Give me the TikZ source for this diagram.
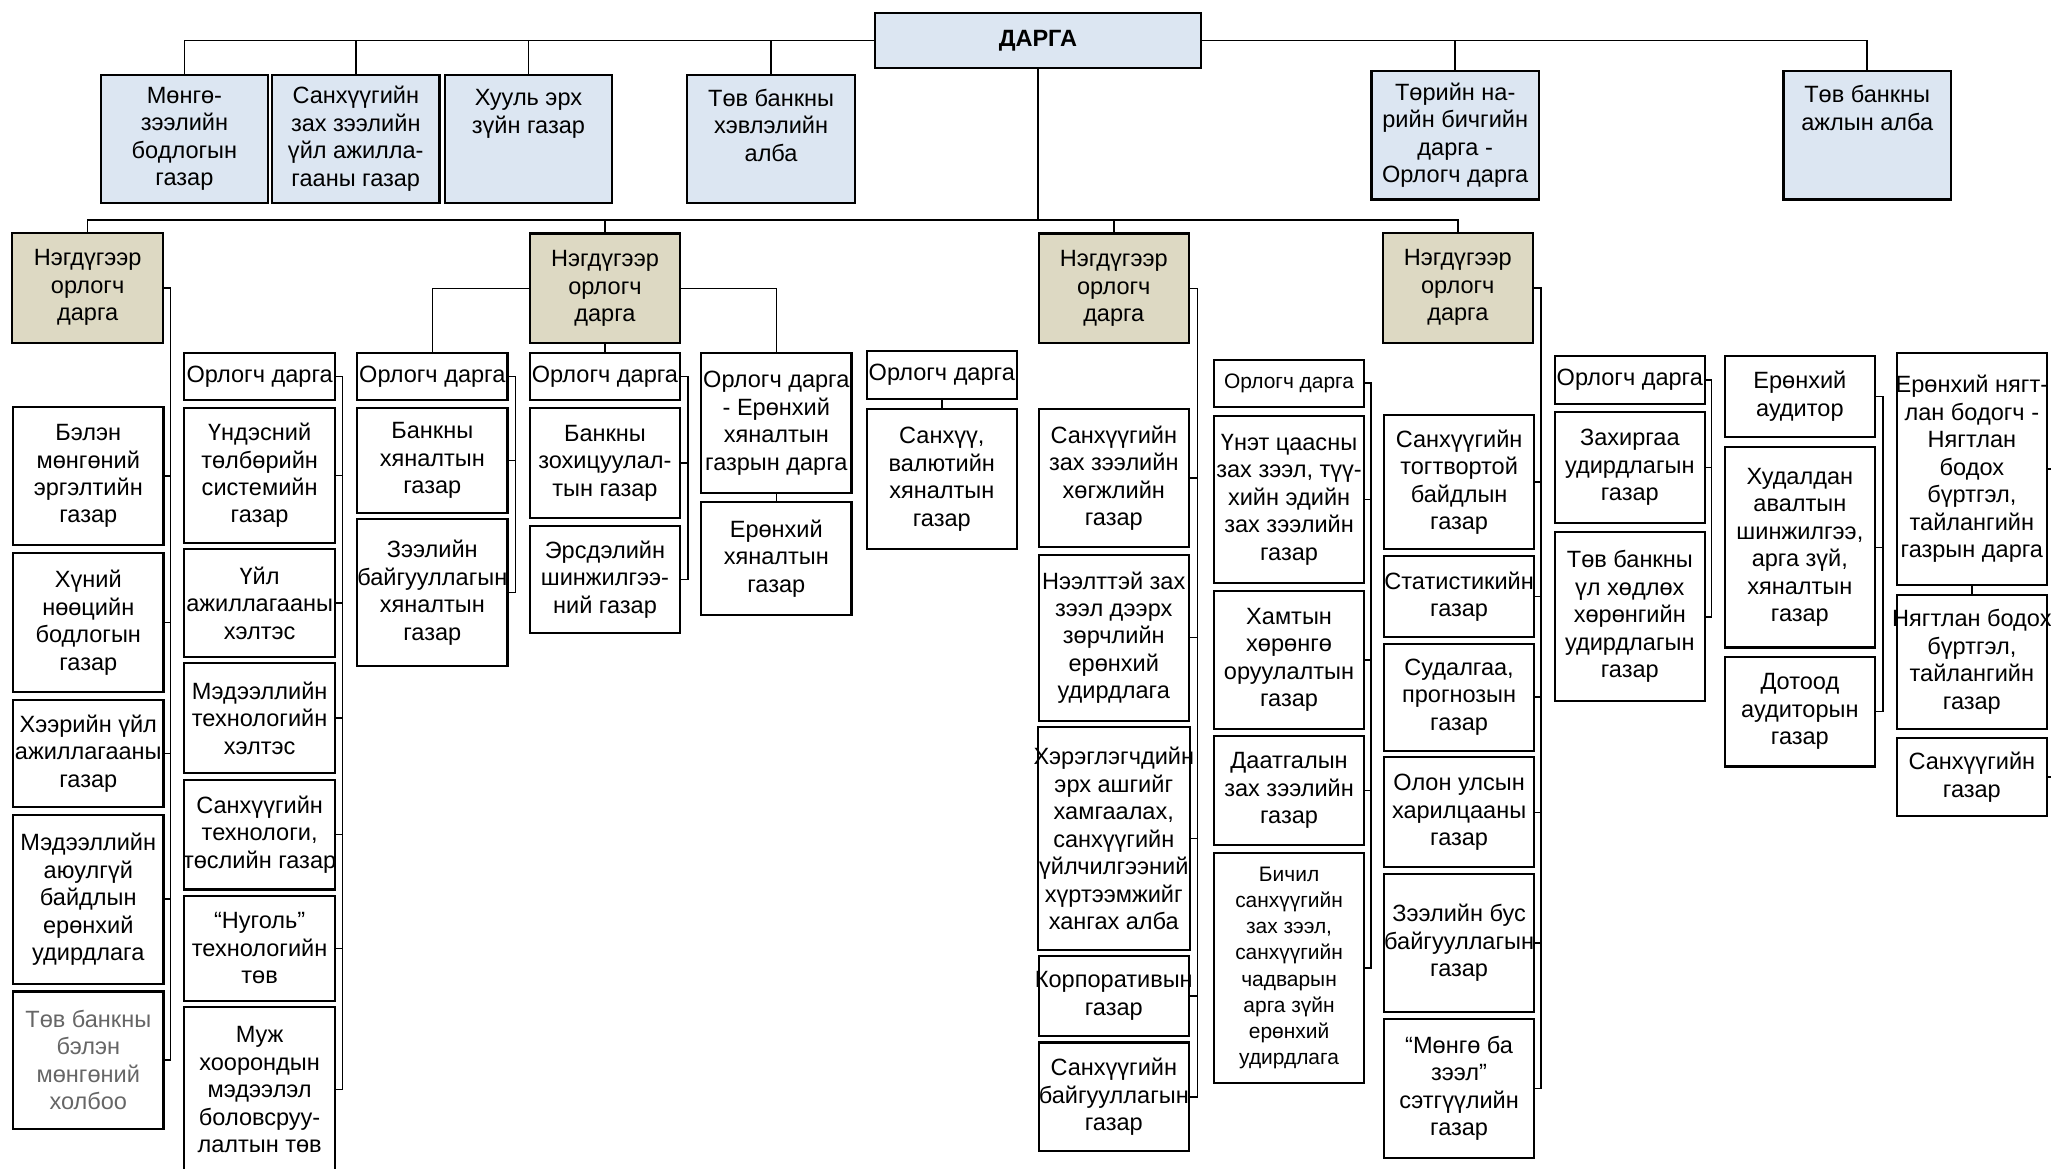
\documentclass[tikz,border=0pt]{standalone}
\usepackage{fontspec}
\setmainfont{Liberation Sans}
\usetikzlibrary{positioning}

\definecolor{headblue}{HTML}{DCE6F2}
\definecolor{deptan}{HTML}{DDD9C3}
\newcommand\wideline[1]{\makebox[55pt]{#1}}

\begin{document}
\begin{tikzpicture}[x=0.5pt,y=-0.5pt,
  office/.style={draw, line width=0.8pt, minimum width=57.5pt, inner sep=0.5pt,
    outer sep=0pt, align=center, font=\fontsize{9}{10.5}\selectfont},
  chief/.style={office, fill=headblue, minimum width=64pt, minimum height=49pt},
  deputy/.style={office, fill=deptan, minimum height=42pt},
  small/.style={font=\fontsize{8}{10}\selectfont},
  link/.style={line width=0.6pt}]

\useasboundingbox (0,0) rectangle (1568,893);

 % Nodes

\node[chief, minimum width=124.5pt, minimum height=21pt] (darga) at (793.5,31) {\textbf{ДАРГА}};
\node[chief] (m1) at (141,106) {Мөнгө-\\зээлийн\\бодлогын\\газар};
\node[chief, right=1.5pt of m1] (m2) {Санхүүгийн\\зах зээлийн\\үйл ажилла-\\гааны газар};
\node[chief, right=2pt of m2] (m3) {Хууль эрх\\зүйн газар\\~\\~};
\node[chief] (m4) at (589.5,106) {Төв банкны\\хэвлэлийн\\алба\\~};
\node[chief] (m5) at (1112.5,103.5) {Төрийн на-\\рийн бичгийн\\дарга -\\Орлогч дарга};
\node[chief] (m6) at (1427.5,103.5) {Төв банкны\\ажлын алба\\~\\~};

\node[deputy] (n1) at (67,220) {Нэгдүгээр\\орлогч\\дарга};
\node[deputy] (n2) at (462.5,220.5) {Нэгдүгээр\\орлогч\\дарга};
\node[deputy] (n3) at (851.5,220.5) {Нэгдүгээр\\орлогч\\дарга};
\node[deputy] (n4) at (1114.5,220) {Нэгдүгээр\\орлогч\\дарга};

% first deputy, left column
\node[office, anchor=north, minimum height=53pt] (c1a) at (67.5,311) {Бэлэн\\мөнгөний\\эргэлтийн\\газар};
\node[office, below=3pt of c1a, minimum height=53pt] (c1b) {Хүний\\нөөцийн\\бодлогын\\газар};
\node[office, below=3pt of c1b, minimum height=41pt] (c1c) {Хээрийн үйл\\ажиллагааны\\газар};
\node[office, below=3pt of c1c, minimum height=64.5pt] (c1d) {Мэдээллийн\\аюулгүй\\байдлын\\ерөнхий\\удирдлага};
\node[office, below=3pt of c1d, minimum height=52.5pt, text=black!60] (c1e) {Төв банкны\\бэлэн\\мөнгөний\\холбоо};

\node[office, anchor=north, minimum height=18pt] (o1) at (198.5,270) {Орлогч дарга};
\node[office, below=3pt of o1, minimum height=51.5pt] (c2a) {Үндэсний\\төлбөрийн\\системийн\\газар};
\node[office, below=2.5pt of c2a, minimum height=41pt] (c2b) {Үйл\\ажиллагааны\\хэлтэс};
\node[office, below=2.5pt of c2b, minimum height=42pt] (c2c) {Мэдээллийн\\технологийн\\хэлтэс};
\node[office, below=2.5pt of c2c, minimum height=42pt] (c2d) {Санхүүгийн\\технологи,\\\wideline{төслийн газар}};
\node[office, below=2.5pt of c2d, minimum height=40pt] (c2e) {“Нуголь”\\технологийн\\төв};
\node[office, below=2.5pt of c2e, minimum height=63pt] (c2f) {Муж\\хоорондын\\мэдээлэл\\боловсруу-\\лалтын төв};

% second deputy
\node[office, anchor=north, minimum height=18pt] (o2) at (330.5,270) {Орлогч дарга};
\node[office, below=3pt of o2, minimum height=40pt] (c3a) {Банкны\\хяналтын\\газар};
\node[office, below=2.5pt of c3a, minimum height=56pt] (c3b) {Зээлийн\\\wideline{байгууллагын}\\хяналтын\\газар};

\node[office, anchor=north, minimum height=18pt] (o3) at (462.5,270) {Орлогч дарга};
\node[office, below=3pt of o3, minimum height=42pt] (c4a) {Банкны\\зохицуулал-\\тын газар};
\node[office, below=3pt of c4a, minimum height=41pt] (c4b) {Эрсдэлийн\\шинжилгээ-\\ний газар};

\node[office, anchor=north, minimum height=53.5pt] (o4) at (593.5,270) {Орлогч дарга\\- Ерөнхий\\хяналтын\\газрын дарга};
\node[office, below=3.5pt of o4, minimum height=43pt] (c5a) {Ерөнхий\\хяналтын\\газар};

\node[office, anchor=north, minimum height=18.5pt] (o5) at (720,268) {Орлогч дарга};
\node[office, below=4pt of o5, minimum height=53.5pt] (c6a) {Санхүү,\\валютийн\\хяналтын\\газар};

% third deputy
\node[office, anchor=north, minimum height=52.5pt] (c7a) at (851.5,313) {Санхүүгийн\\зах зээлийн\\хөгжлийн\\газар};
\node[office, below=3pt of c7a, minimum height=63.5pt] (c7b) {Нээлттэй зах\\зээл дээрх\\зөрчлийн\\ерөнхий\\удирдлага};
\node[office, below=2.5pt of c7b, minimum height=85pt] (c7c) {\wideline{Хэрэглэгчдийн}\\эрх ашгийг\\хамгаалах,\\санхүүгийн\\үйлчилгээний\\хүртээмжийг\\хангах алба};
\node[office, below=2.5pt of c7c, minimum height=30.5pt] (c7d) {\wideline{Корпоративын}\\газар};
\node[office, below=2.5pt of c7d, minimum height=41.5pt] (c7e) {Санхүүгийн\\\wideline{байгууллагын}\\газар};

\node[office, small, anchor=north, minimum height=18pt] (o6) at (985.5,275) {Орлогч дарга};
\node[office, below=3.5pt of o6, minimum height=64pt] (c8a) {Үнэт цаасны\\зах зээл, түү-\\хийн эдийн\\зах зээлийн\\газар};
\node[office, below=3pt of c8a, minimum height=52.5pt] (c8b) {Хамтын\\хөрөнгө\\оруулалтын\\газар};
\node[office, below=3pt of c8b, minimum height=41.5pt] (c8c) {Даатгалын\\зах зээлийн\\газар};
\node[office, small, below=3pt of c8c, minimum height=88pt] (c8d) {Бичил\\санхүүгийн\\зах зээл,\\санхүүгийн\\чадварын\\арга зүйн\\ерөнхий\\удирдлага};

% fourth deputy
\node[office, anchor=north, minimum height=51.5pt] (c9a) at (1115.5,317) {Санхүүгийн\\тогтвортой\\байдлын\\газар};
\node[office, below=2.5pt of c9a, minimum height=31pt] (c9b) {\wideline{Статистикийн}\\газар};
\node[office, below=2.5pt of c9b, minimum height=41pt] (c9c) {Судалгаа,\\прогнозын\\газар};
\node[office, below=2.5pt of c9c, minimum height=42pt] (c9d) {Олон улсын\\харилцааны\\газар};
\node[office, below=2.5pt of c9d, minimum height=53pt] (c9e) {Зээлийн бус\\\wideline{байгууллагын}\\газар};
\node[office, below=2.5pt of c9e, minimum height=53pt] (c9f) {“Мөнгө ба\\зээл”\\сэтгүүлийн\\газар};

\node[office, anchor=north, minimum height=18.5pt] (o7) at (1246,272) {Орлогч дарга};
\node[office, below=3pt of o7, minimum height=42.5pt] (c10a) {Захиргаа\\удирдлагын\\газар};
\node[office, below=3.5pt of c10a, minimum height=64.5pt] (c10b) {Төв банкны\\үл хөдлөх\\хөрөнгийн\\удирдлагын\\газар};

\node[office, anchor=north, minimum height=31pt] (a1) at (1376,272) {Ерөнхий\\аудитор};
\node[office, below=4pt of a1, minimum height=76.5pt] (a2) {Худалдан\\авалтын\\шинжилгээ,\\арга зүй,\\хяналтын\\газар};
\node[office, below=3.5pt of a2, minimum height=42pt] (a3) {Дотоод\\аудиторын\\газар};

\node[office, anchor=north, minimum height=88.5pt] (b1) at (1507.5,270) {\wideline{Ерөнхий нягт-}\\лан бодогч -\\Нягтлан\\бодох\\бүртгэл,\\тайлангийн\\газрын дарга};
\node[office, below=4pt of b1, minimum height=51pt] (b2) {\wideline{Нягтлан бодох}\\бүртгэл,\\тайлангийн\\газар};
\node[office, below=3.5pt of b2, minimum height=30pt] (b3) {Санхүүгийн\\газар};

% Connect nodes
\draw[link] (darga.west) -| (m1.north);
\draw[link] (darga.east) -| (m6.north);
\foreach \m in {m2,m3,m4} \draw[link] (\m.north) -- (\m.north |- darga.west);
\draw[link] (m5.north) -- (m5.north |- darga.east);

\coordinate (mid) at (793.5,168);
\draw[link] (darga.south) -- (mid);
\draw[link] (n1.north) |- (mid) -| (n4.north);
\foreach \n in {n2,n3} \draw[link] (\n.north) -- (\n.north |- mid);

\draw[link] (n2.west) -| (o2.north);
\draw[link] (n2.south) -- (o3.north);
\draw[link] (n2.east) -| (o4.north);
\draw[link] (o4) -- (c5a);
\draw[link] (o5) -- (c6a);
\draw[link] (b1) -- (b2);

\draw[link] (n1.east) -- ++(3pt,0) |- (c1e.east);
\foreach \c in {c1a,c1b,c1c,c1d} \draw[link] (\c.east) -- ++(3pt,0);
\draw[link] (o1.east) -- ++(3pt,0) |- (c2f.east);
\foreach \c in {c2a,c2b,c2c,c2d,c2e} \draw[link] (\c.east) -- ++(3pt,0);
\draw[link] (o2.east) -- ++(3pt,0) |- (c3b.east);
\draw[link] (c3a.east) -- ++(3pt,0);
\draw[link] (o3.east) -- ++(3pt,0) |- (c4b.east);
\draw[link] (c4a.east) -- ++(3pt,0);

\draw[link] (n3.east) -- ++(3.25pt,0) |- (c7e.east);
\foreach \c in {c7a,c7b,c7c,c7d} \draw[link] (\c.east) -- ++(3.25pt,0);
\draw[link] (o6.east) -- ++(2.5pt,0) |- (c8d.east);
\foreach \c in {c8a,c8b,c8c} \draw[link] (\c.east) -- ++(2.5pt,0);

\draw[link] (n4.east) -- ++(3pt,0) |- (c9f.east);
\foreach \c in {c9a,c9b,c9c,c9d,c9e} \draw[link] (\c.east) -- ++(3pt,0);
\draw[link] (o7.east) -- ++(2.5pt,0) |- (c10b.east);
\draw[link] (c10a.east) -- ++(2.5pt,0);
\draw[link] (a1.east) -- ++(3pt,0) |- (a3.east);
\draw[link] (a2.east) -- ++(3pt,0);
\draw[link] (b1.east) -- ++(3pt,0) |- (b3.east);

\end{tikzpicture}
\end{document}
